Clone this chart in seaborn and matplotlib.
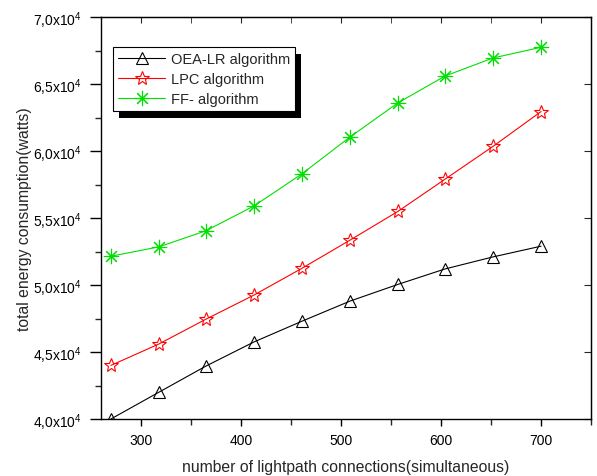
import matplotlib
matplotlib.use('Agg')
import matplotlib.pyplot as plt
from matplotlib.ticker import MultipleLocator, FuncFormatter
from matplotlib.patches import Rectangle
from matplotlib.transforms import IdentityTransform
import pandas as pd
import seaborn as sns

# Data
connections = [270, 318, 365, 413, 461, 509, 557, 604, 652, 700]
oea_lr = [40000, 42000, 43950, 45750, 47300, 48800, 50050, 51200, 52100, 52900]
lpc = [44000, 45600, 47450, 49250, 51250, 53350, 55500, 57900, 60350, 62950]
ff = [52150, 52850, 54050, 55900, 58300, 61050, 63600, 65600, 66950, 67750]

series_names = ['OEA-LR algorithm', 'LPC algorithm', 'FF- algorithm']
series_values = [oea_lr, lpc, ff]
series_colors = ['black', 'red', '#00e000']
series_markers = ['^', '*', (8, 2, 0)]
series_sizes = [9, 10, 11]

sns.set_style("ticks")
plt.rcParams['font.family'] = ['Liberation Sans', 'DejaVu Sans']
plt.rcParams['mathtext.fontset'] = 'custom'
plt.rcParams['mathtext.rm'] = 'Liberation Sans'

fig = plt.figure(figsize=(5.97, 4.77), dpi=100)
ax = fig.add_axes([0.169, 0.1195, 0.821, 0.8425])

for name, vals, col, mk, ms in zip(series_names, series_values, series_colors,
                                   series_markers, series_sizes):
    df = pd.DataFrame({'x': connections, 'y': vals})
    sns.lineplot(data=df, x='x', y='y', ax=ax, color=col, lw=0.8,
                 marker=mk, markersize=ms, markerfacecolor='none',
                 markeredgecolor=col, markeredgewidth=0.8, label=name)

ax.set_xlim(260, 750)
ax.set_ylim(40000, 70000)
ax.xaxis.set_major_locator(MultipleLocator(100))
ax.xaxis.set_minor_locator(MultipleLocator(50))
ax.yaxis.set_major_locator(MultipleLocator(5000))
ax.yaxis.set_minor_locator(MultipleLocator(2500))
ax.set_xticks([300, 400, 500, 600, 700])


def yfmt(v, pos):
    return (r'%.1f' % (v / 10000)).replace('.', ',') + r'x10$^4$'


ax.yaxis.set_major_formatter(FuncFormatter(yfmt))
ax.tick_params(axis='both', which='major', labelsize=10, direction='out',
               length=5, width=1, colors='black', pad=5)
ax.tick_params(axis='y', which='major', length=8, pad=6)
ax.tick_params(axis='both', which='minor', direction='out', length=4, width=1)
for s in ax.spines.values():
    s.set_linewidth(1)
    s.set_color('black')

# inward ticks on top and right
top = ax.secondary_xaxis('top')
top.xaxis.set_major_locator(MultipleLocator(100))
top.xaxis.set_minor_locator(MultipleLocator(50))
top.tick_params(which='both', direction='in', length=4, labeltop=False)
right = ax.secondary_yaxis('right')
right.yaxis.set_major_locator(MultipleLocator(5000))
right.tick_params(which='both', direction='in', length=5, labelright=False)

ax.set_xlabel('number of lightpath connections(simultaneous)', fontsize=11.3)
ax.set_ylabel('total energy consumption(watts)', fontsize=11.3)
ax.xaxis.set_label_coords(0.5, -0.1)
ax.yaxis.set_label_coords(-0.14, 0.5)

leg = ax.legend(loc='upper left', bbox_to_anchor=(0.025, 0.925), fontsize=10.5,
                frameon=True, fancybox=False, shadow=False,
                handlelength=3.2, borderpad=0.35, labelspacing=0.4,
                handletextpad=0.4, borderaxespad=0)
leg.get_frame().set_edgecolor('black')
leg.get_frame().set_linewidth(0.8)
leg.get_frame().set_alpha(1)

# solid black drop shadow behind the legend box
fig.canvas.draw()
bb = leg.get_window_extent()
shadow = Rectangle((bb.x0 + 6, bb.y0 - 7), bb.width, bb.height,
                   transform=IdentityTransform(), facecolor='black',
                   edgecolor='none', zorder=leg.get_zorder() - 0.1, clip_on=False)
ax.add_artist(shadow)

fig.savefig('out.png', dpi=100)
